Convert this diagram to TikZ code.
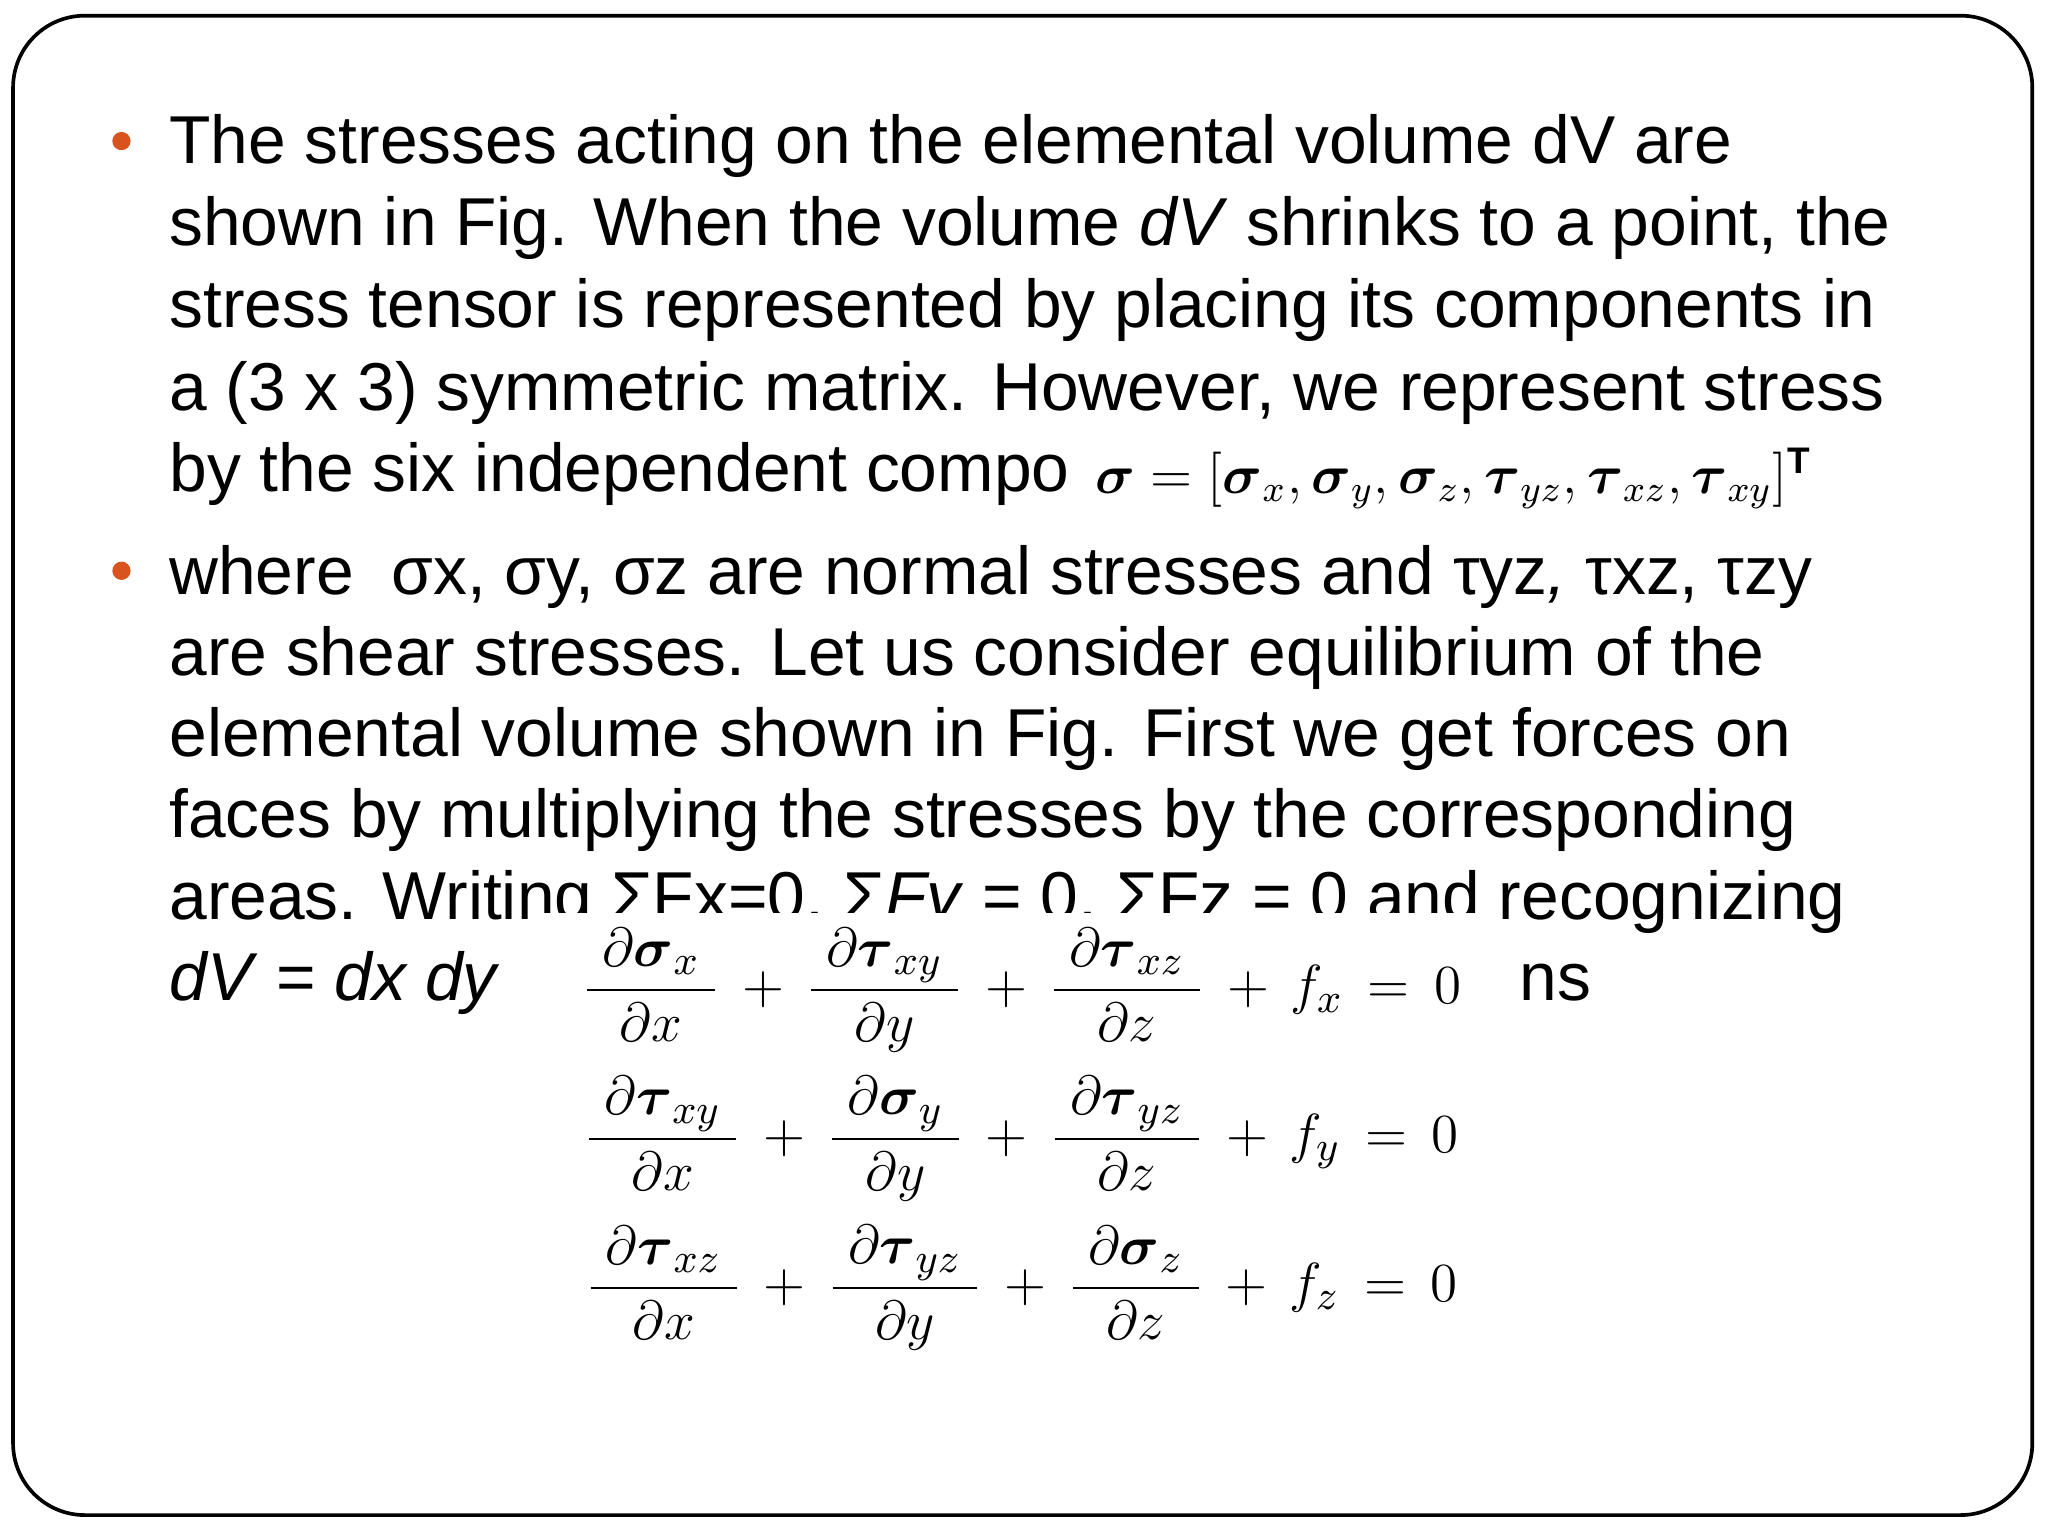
\documentclass[tikz,border=0pt]{standalone}
\usepackage{amsmath}
\usepackage{fontspec}
\setmainfont{Liberation Sans}
\definecolor{bul}{HTML}{D9531E}
\begin{document}
\begin{tikzpicture}[x=0.01cm,y=-0.01cm,
  txt/.style={anchor=base west,inner sep=0pt,font=\fontsize{14.75pt}{18pt}\selectfont},
  eq/.style={anchor=center,inner sep=0pt,font=\fontsize{12.2pt}{14pt}\selectfont}]
\useasboundingbox (0,0) rectangle (1568,1176);
\fill[white] (0,0) rectangle (1568,1176);
\draw[line width=0.8pt,rounded corners=0.55cm] (10,12) rectangle (1556,1160);
\fill[bul] (93,108) circle (7);
\fill[bul] (93,437) circle (7);
\node[txt] (l1) at (129,125) {The stresses acting on the elemental volume dV are};
\node[txt] (l2) at (129,188) {shown in Fig. When the volume \textit{dV} shrinks to a point, the};
\node[txt] (l3) at (129,251) {stress tensor is represented by placing its components in};
\node[txt] (l4) at (129,314) {a (3 x 3) symmetric matrix. However, we represent stress};
\node[txt] (l5) at (129,376) {by the six independent compo};
\node[txt] (l6) at (129,455) {where \ σx, σy, σz are normal stresses and τyz\textit{,} τxz, τzy};
\node[txt] (l7) at (129,517) {are shear stresses. Let us consider equilibrium of the};
\node[txt] (l8) at (129,579) {elemental volume shown in Fig. First we get forces on};
\node[txt] (l9) at (129,641) {faces by multiplying the stresses by the corresponding};
\node[txt] (l10) at (129,704) {areas. Writing ΣFx=0, Σ\textit{Fy} = 0, ΣFz = 0 and recognizing};
\node[txt] (l11) at (129,766) {\textit{dV} = \textit{dx dy}};
\node[txt] (l11b) at (1163,766) {ns};
\fill[white] (828,338) rectangle (1412,392);
\node[anchor=west,inner sep=0pt,font=\fontsize{11.5pt}{13pt}\selectfont] (sig) at (838,366)
  {$\boldsymbol{\sigma} = [\boldsymbol{\sigma}_x,\boldsymbol{\sigma}_y,\boldsymbol{\sigma}_z,\boldsymbol{\tau}_{yz},\boldsymbol{\tau}_{xz},\boldsymbol{\tau}_{xy}]^{\mathbf{T}}$};
\fill[white] (405,699) rectangle (1150,1045);
\node[eq] (e1) at (782,758) {$\dfrac{\;\partial\boldsymbol{\sigma}_x\;}{\partial x}\,+\,\dfrac{\;\partial\boldsymbol{\tau}_{xy}\;}{\partial y}\,+\,\dfrac{\;\partial\boldsymbol{\tau}_{xz}\;}{\partial z}\,+\,f_x\,=\,0$};
\node[eq] (e2) at (782,872) {$\dfrac{\;\partial\boldsymbol{\tau}_{xy}\;}{\partial x}\,+\,\dfrac{\;\partial\boldsymbol{\sigma}_{y}\;}{\partial y}\,+\,\dfrac{\;\partial\boldsymbol{\tau}_{yz}\;}{\partial z}\,+\,f_y\,=\,0$};
\node[eq] (e3) at (782,986) {$\dfrac{\;\partial\boldsymbol{\tau}_{xz}\;}{\partial x}\,+\,\dfrac{\;\partial\boldsymbol{\tau}_{yz}\;}{\partial y}\,+\,\dfrac{\;\partial\boldsymbol{\sigma}_{z}\;}{\partial z}\,+\,f_z\,=\,0$};
\end{tikzpicture}
\end{document}
